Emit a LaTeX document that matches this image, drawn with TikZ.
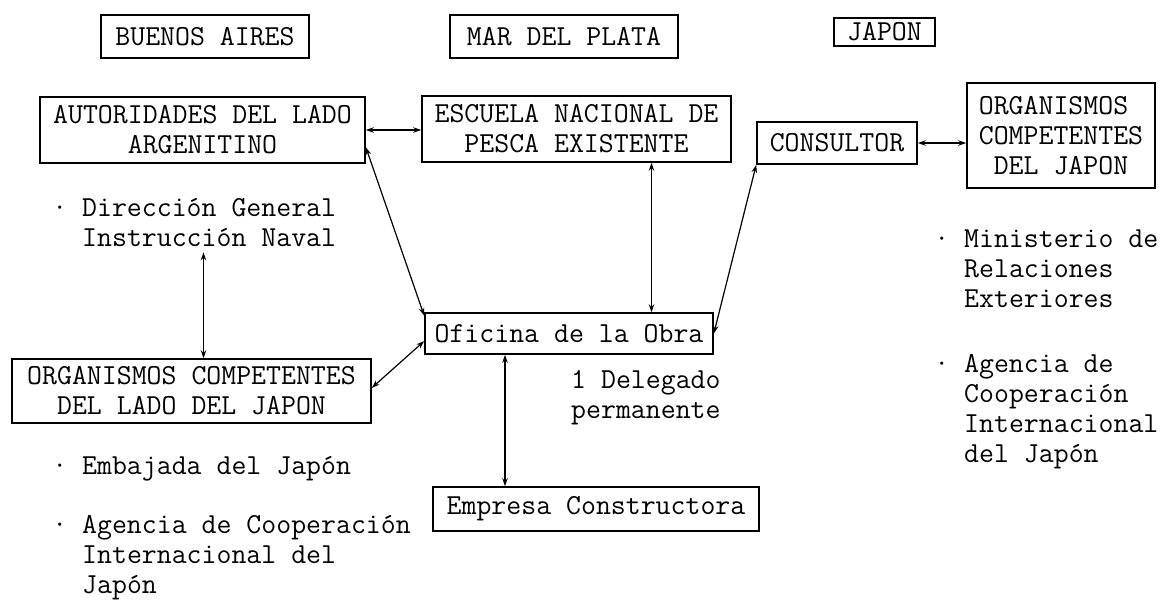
\documentclass[tikz,border=0pt]{standalone}
\usepackage{fontspec}
\usetikzlibrary{arrows.meta}

\newcommand{\mono}{\fontsize{29}{30}\selectfont\ttfamily}
\newcommand{\bul}{\llap{·\ }}

\tikzset{
  caja/.style={draw, line width=1.6pt, inner sep=0pt, align=center, font=\mono},
  texto/.style={anchor=base west, inner sep=0pt, align=left, font=\mono},
  conn/.style={<->, line width=1.2pt},
}

\begin{document}
\begin{tikzpicture}[x=1pt, y=-1pt, >={Stealth[length=8pt,width=5.5pt]}]
    \useasboundingbox (0,0) rectangle (1169,600);

    % ciudades
    \node[caja, minimum width=208pt, minimum height=43pt] (ba) at (205,36.5) {BUENOS AIRES};
    \node[caja, minimum width=228pt, minimum height=43pt] (mdp) at (564,36.5) {MAR DEL PLATA};
    \node[caja, minimum width=101pt, minimum height=28pt] (jap) at (884.5,32) {JAPON};

    % organismos
    \node[caja, minimum width=325pt, minimum height=66pt] (aut) at (202.5,130) {AUTORIDADES DEL LADO\\ARGENITINO};
    \node[caja, minimum width=309pt, minimum height=66pt] (esc) at (576.5,129) {ESCUELA NACIONAL DE\\PESCA EXISTENTE};
    \node[caja, minimum width=160pt, minimum height=42pt] (cons) at (837,143) {CONSULTOR};
    \node[caja, minimum width=188pt, minimum height=105pt, align=left] (orgj) at (1061,135.5) {ORGANISMOS\\COMPETENTES\\~DEL JAPON};
    \node[caja, minimum width=288pt, minimum height=41pt] (ofi) at (569,333.5) {Oficina de la Obra};
    \node[caja, minimum width=359pt, minimum height=64pt] (orgl) at (191.5,391) {ORGANISMOS COMPETENTES\\DEL LADO DEL JAPON};
    \node[caja, minimum width=326pt, minimum height=44pt] (emp) at (596,509) {Empresa Constructora};

    % textos (base = ultima linea)
    \node[texto] (dir) at (82,246) {\bul Dirección General\\Instrucción Naval};
    \node[texto] (emb) at (82,474) {\bul Embajada del Japón};
    \node[texto] (agl) at (82,593) {\bul Agencia de Cooperación\\Internacional del\\Japón};
    \node[texto] (dele) at (571,418) {1 Delegado\\permanente};
    \node[texto] (min) at (964,307) {\bul Ministerio de\\Relaciones\\Exteriores};
    \node[texto] (agj) at (964,462) {\bul Agencia de\\Cooperación\\Internacional\\del Japón};

    % flechas
    \draw[conn] (aut.east) -- (aut.east -| esc.west);
    \draw[conn] (aut.354) -- (ofi.173);
    \draw[conn] ([xshift=75pt]esc.south) -- ([xshift=75pt]esc.south |- ofi.north);
    \draw[conn] (cons.south west) -- (ofi.east);
    \draw[conn] (cons.east) -- (cons.east -| orgj.west);
    \draw[conn, shorten >=6pt] ([xshift=12pt]orgl.north) -- ([xshift=12pt]orgl.north |- dir.south);
    \draw[conn] (orgl.1) -- (ofi.183);
    \draw[conn] ([xshift=-64pt]ofi.south) -- ([xshift=-64pt]ofi.south |- emp.north);
\end{tikzpicture}
\end{document}
